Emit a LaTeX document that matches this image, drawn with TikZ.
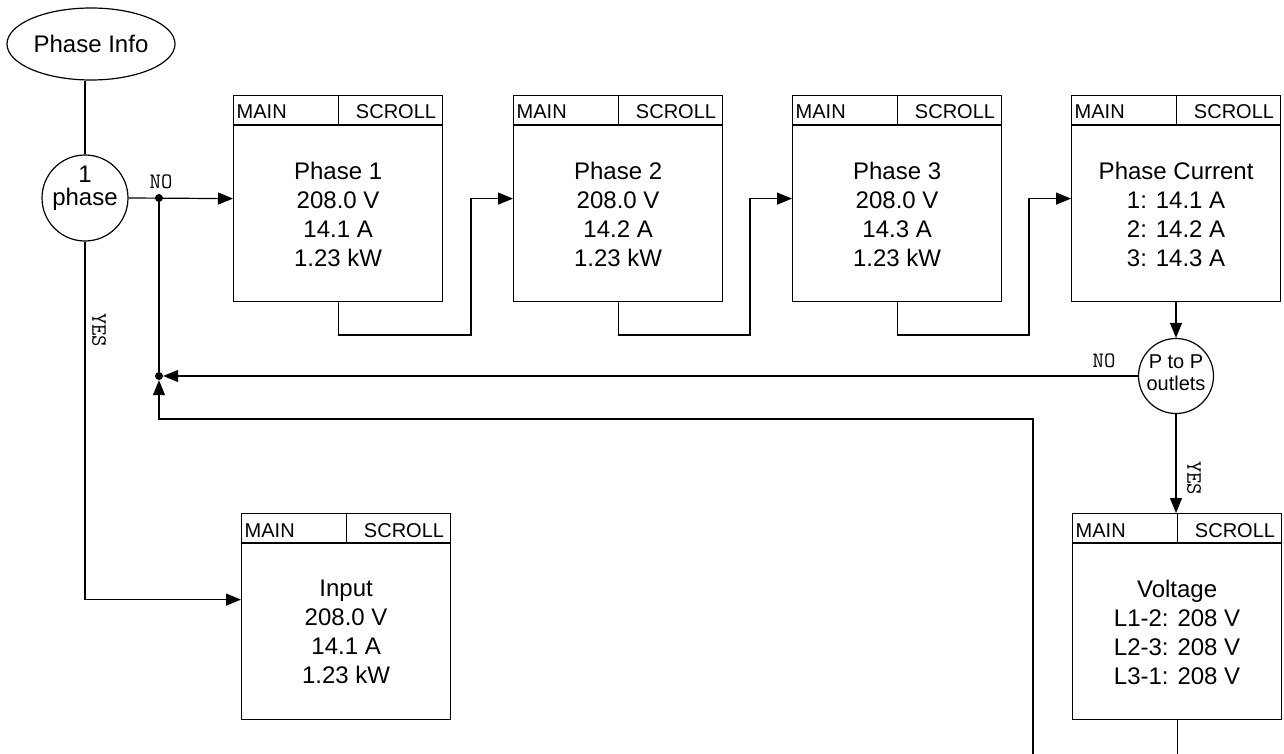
\documentclass[tikz,border=0pt]{standalone}
\usepackage{fontspec}
\setmainfont{Liberation Sans}
\usetikzlibrary{shapes.geometric,arrows.meta,calc}
\tikzset{
 ln/.style={line width=1.2pt},
 scr/.style={draw, line width=1.2pt, minimum width=209pt, minimum height=206pt, inner sep=0pt, anchor=north west},
 hdr/.style={font=\fontsize{20}{24}\selectfont, inner sep=0pt},
 bodytxt/.style={font=\fontsize{24}{29}\selectfont, align=center, inner sep=0pt, anchor=north},
 lbl/.style={font=\ttfamily\fontsize{22}{24}\selectfont, inner sep=0pt},
 arr/.style={line width=1.2pt, -{Triangle[length=15pt,width=12pt]}},
 dotn/.style={circle, fill, minimum size=8pt, inner sep=0pt},
 dec/.style={circle, draw, line width=1.2pt, inner sep=0pt},
 dectxt/.style={align=center, inner sep=0pt},
}
\newcommand\screenbox[4]{%
 \node[scr] (#1) at (#2,#3) {};
 \draw[ln] ([yshift=-30pt]#1.north west) -- ([yshift=-30pt]#1.north east);
 \draw[ln] (#1.north) -- ([yshift=-30pt]#1.north);
 \node[hdr, anchor=base west] (#1-main) at ([xshift=3.5pt,yshift=-24pt]#1.north west) {MAIN};
 \node[hdr, anchor=base east] (#1-scroll) at ([xshift=-7pt,yshift=-24pt]#1.north east) {SCROLL};
 \node[bodytxt] (#1-txt) at ([yshift=-67pt]#1.north) {#4};
}
\begin{document}
\begin{tikzpicture}[x=1pt,y=-1pt]
\useasboundingbox (0,0) rectangle (1284,754);
\clip (0,0) rectangle (1284,754);

% start ellipse and decision
\node[ellipse, draw, line width=1.2pt, minimum width=168pt, minimum height=72pt, inner sep=0pt,
      font=\fontsize{24}{29}\selectfont] (ell) at (91,44) {Phase Info};
\node[dec, minimum size=86pt] (c1) at (85,198) {};
\node[dectxt, font=\fontsize{24}{23}\selectfont] (c1-txt) at (85,188.5) {1\\phase};
\draw[ln] (c1.north |- ell.south) -- (c1.north);

% junction dots
\node[dotn] (j1) at (159,198) {};
\node[dotn] (j2) at (159,376) {};

% screens
\screenbox{p1}{233}{95}{Phase 1\\208.0 V\\14.1 A\\1.23 kW}
\screenbox{p2}{513}{95}{Phase 2\\208.0 V\\14.2 A\\1.23 kW}
\screenbox{p3}{792}{95}{Phase 3\\208.0 V\\14.3 A\\1.23 kW}
\screenbox{p4}{1071}{95}{Phase Current\\1: 14.1 A\\2: 14.2 A\\3: 14.3 A}
\screenbox{inp}{241}{513}{Input\\208.0 V\\14.1 A\\1.23 kW}
\screenbox{volt}{1072}{513}{Voltage\\L1-2: 208 V\\L2-3: 208 V\\L3-1: 208 V}

% P to P decision
\node[dec, minimum size=75pt] (pp) at (1176,376) {};
\node[dectxt, font=\fontsize{20}{22}\selectfont] (pp-txt) at (1176,372.5) {P to P\\outlets};

% bend coordinates
\coordinate (c12) at (471,335);
\coordinate (c23) at (750,335);
\coordinate (c34) at (1029,335);
\coordinate (lt) at (1033,419);

% connectors
\draw[arr] (c1.east) -- (p1.west);
\node[lbl] (no1) at (161,182) {NO};
\draw[ln] (j2) -- (j1);
\draw[arr] (p1.south) |- (c12) |- (p2.west);
\draw[arr] (p2.south) |- (c23) |- (p3.west);
\draw[arr] (p3.south) |- (c34) |- (p4.west);
\draw[arr] (p4.south -| pp.north) -- (pp.north);
\draw[arr] (pp.west) -- (j2);
\node[lbl] (no2) at (1104,361) {NO};
\draw[arr] (pp.south) -- (pp.south |- volt.north);
\node[lbl, rotate=-90] (yes2) at (1194,478) {YES};
\draw[arr] (volt.south) -- ++(0,60) -| (lt) -- (lt -| j2) -- (j2);
\draw[arr] (c1.south) |- ([yshift=17pt]inp.west);
\node[lbl, rotate=-90] (yes1) at (99,330) {YES};
\end{tikzpicture}
\end{document}
